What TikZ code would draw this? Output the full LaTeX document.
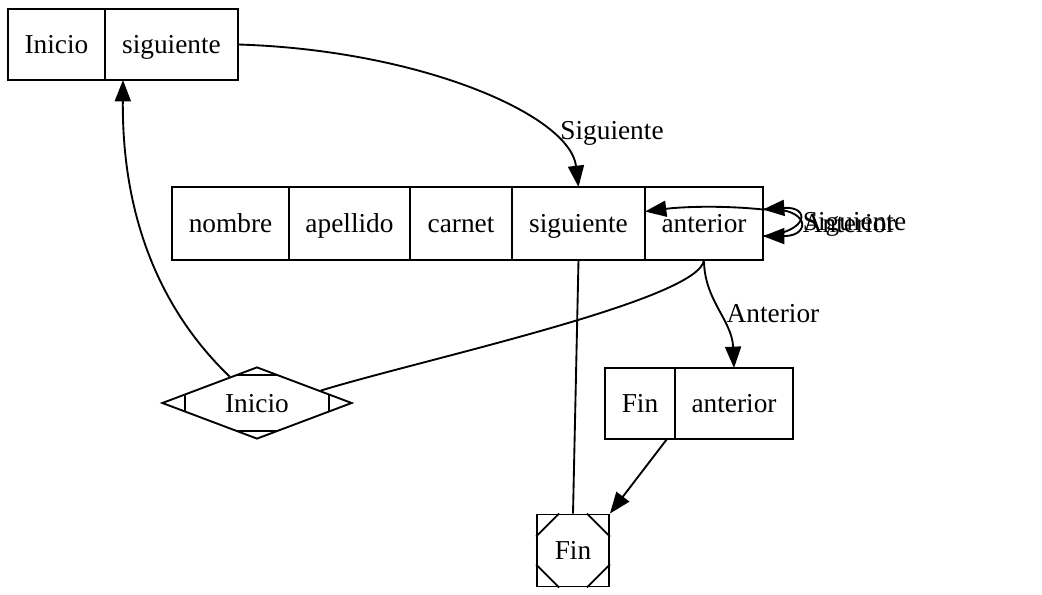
\documentclass[tikz,border=0pt]{standalone}
\usepackage{fontspec}
\setmainfont{Liberation Serif}
\usetikzlibrary{positioning,shapes.geometric,arrows.meta}
\tikzset{
  field/.style={draw, minimum height=53.25pt, inner sep=0pt, outer sep=0pt, text height=18pt, text depth=4pt},
  lbl/.style={inner sep=0pt},
  link/.style={},
  ptr/.style={-{Triangle[length=16pt,width=12pt]}},
}
\begin{document}
\begin{tikzpicture}[x=0.75pt, y=-0.75pt, line width=1.4pt, font=\fontsize{20.5}{24}\selectfont]
  \useasboundingbox (0,0) rectangle (1042,595);
  % records
  \node[field, minimum width=72.75pt] (inicioTop) at (56.5,44.5) {Inicio};
  \node[field, minimum width=99.75pt, right=0pt of inicioTop] (sigTop) {siguiente};
  \node[field, minimum width=87.75pt, minimum height=54.75pt] (nombre) at (230.5,223.5) {nombre};
  \node[field, minimum width=90.75pt, minimum height=54.75pt, right=0pt of nombre] (apellido) {apellido};
  \node[field, minimum width=76.5pt, minimum height=54.75pt, right=0pt of apellido] (carnet) {carnet};
  \node[field, minimum width=99.75pt, minimum height=54.75pt, right=0pt of carnet] (siguiente) {siguiente};
  \node[field, minimum width=88.5pt, minimum height=54.75pt, right=0pt of siguiente] (anterior) {anterior};
  \node[field, minimum width=52.5pt] (finFin) at (640,403.5) {Fin};
  \node[field, minimum width=88.5pt, right=0pt of finFin] (finAnt) {anterior};
  % Mdiamond
  \node[draw, diamond, aspect=2.64, minimum width=142.5pt, minimum height=54pt, inner sep=0pt, text height=18pt, text depth=4pt] (inicio) at (257,403) {Inicio};
  \draw ([shift={(-21,-28)}]inicio.center) -- ([shift={(21,-28)}]inicio.center);
  \draw ([shift={(-21,28)}]inicio.center) -- ([shift={(21,28)}]inicio.center);
  \draw ([shift={(-72,-8.7)}]inicio.center) -- ([shift={(-72,8.7)}]inicio.center);
  \draw ([shift={(72,-8.7)}]inicio.center) -- ([shift={(72,8.7)}]inicio.center);
  % Msquare
  \node[draw, minimum size=54pt, inner sep=0pt, text height=18pt, text depth=4pt] (fin) at (573,550.5) {Fin};
  \draw ([shift={(23,0)}]fin.north west) -- ([shift={(0,23)}]fin.north west);
  \draw ([shift={(-23,0)}]fin.north east) -- ([shift={(0,23)}]fin.north east);
  \draw ([shift={(23,0)}]fin.south west) -- ([shift={(0,-23)}]fin.south west);
  \draw ([shift={(-23,0)}]fin.south east) -- ([shift={(0,-23)}]fin.south east);
  % edges
  \draw[ptr] (sigTop.east) .. controls (420,50) and (570,115) .. (siguiente.north);
  \node[lbl] (lblSig) at (612,133) {Siguiente};
  \draw[ptr] (inicio.136) .. controls (150,300) and (122,200) .. ([xshift=13.5pt]sigTop.south west);
  \draw[link] (anterior.south) .. controls (700,300) and (420,360) .. (inicio.11);
  \draw[link] (siguiente.south) -- (fin.north);
  \draw[ptr] (anterior.south) .. controls (704,300) and (732,320) .. (finAnt.north);
  \node[lbl] (lblAnt) at (773,314) {Anterior};
  \draw[ptr] ([xshift=-6pt]finFin.south east) -- (fin.north east);
  % self loops
  \draw[ptr] ([yshift=10.5pt]anterior.east) .. controls (720,205) and (680,207) .. ([yshift=9pt]siguiente.east);
  \draw[ptr] ([yshift=-9.5pt]anterior.east) .. controls (810,232) and (810,206) .. ([yshift=10.5pt]anterior.east);
  \draw[ptr] ([yshift=10.5pt]anterior.east) .. controls (810,206) and (812,236) .. ([yshift=-9.5pt]anterior.east);
  \node[lbl, anchor=west] (lblLoopSig) at (802,224) {Siguiente};
  \node[lbl, anchor=west] (lblLoopAnt) at (802,224) {Anterior};
\end{tikzpicture}
\end{document}
